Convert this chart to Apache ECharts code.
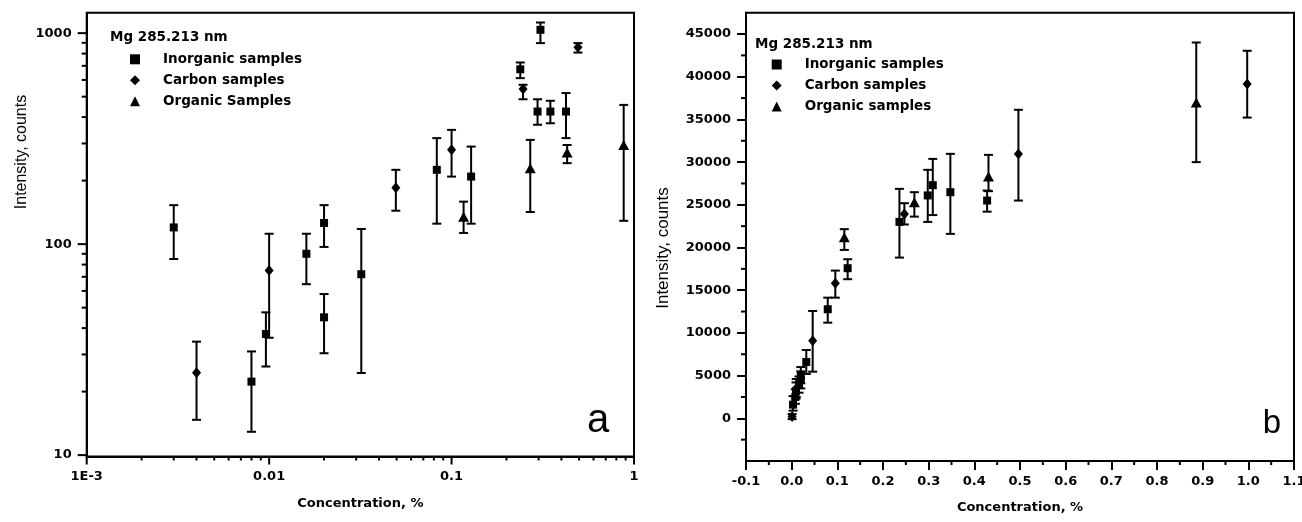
<!DOCTYPE html>
<html>
<head>
<meta charset="utf-8">
<script src="https://cdn.jsdelivr.net/npm/echarts@6/dist/echarts.min.js"></script>
<style>
html,body{margin:0;padding:0;background:#fff;}
#chart{width:1302px;height:522px;}
</style>
</head>
<body>
<div id="chart"></div>
<script>
// ---------- DATA (concentration %, intensity, upper error, lower error) ----------
// Panel a (log-log)
const aInorganic = [
  [0.003, 120, 153, 85],
  [0.008, 22.3, 31, 12.9],
  [0.0096, 37.5, 47.5, 26.3],
  [0.016, 90, 112, 64.6],
  [0.02, 126, 153, 97],
  [0.02, 45, 58, 30.4],
  [0.032, 72, 118, 24.5],
  [0.083, 225, 318, 125],
  [0.128, 209, 290, 125],
  [0.238, 674, 726, 612],
  [0.307, 1037, 1123, 897],
  [0.296, 425, 486, 368],
  [0.348, 425, 478, 374],
  [0.424, 425, 520, 318]
];
const aCarbon = [
  [0.004, 24.6, 34.5, 14.7],
  [0.01, 75, 112, 36],
  [0.0495, 185, 225, 144],
  [0.1, 280, 348, 209],
  [0.2465, 543, 569, 486],
  [0.493, 858, 897, 809]
];
const aOrganic = [
  [0.1164, 135, 159, 113],
  [0.27, 229, 312, 142],
  [0.43, 272, 295, 242],
  [0.878, 295, 457, 129]
];
// Panel b (linear)
const bInorganic = [
  [0.003, 1600, 2600, 900],
  [0.008, 2500, 3400, 1700],
  [0.0095, 3200, 4200, 2300],
  [0.016, 3900, 4900, 3000],
  [0.02, 4500, 5500, 3500],
  [0.02, 5000, 6000, 4100],
  [0.032, 6600, 8000, 5200],
  [0.079, 12770, 14130, 11200],
  [0.1226, 17580, 18630, 16290],
  [0.236, 23000, 26870, 18820],
  [0.298, 26100, 29100, 23000],
  [0.309, 27300, 30380, 23800],
  [0.3475, 26480, 30970, 21600],
  [0.428, 25500, 26670, 24200]
];
const bCarbon = [
  [0.001, 200, 500, -100],
  [0.01, 3500, 4600, 2500],
  [0.046, 9090, 12570, 5460],
  [0.0956, 15820, 17300, 14130],
  [0.2468, 23940, 25190, 22700],
  [0.4965, 30940, 36130, 25500],
  [0.9975, 39140, 43040, 35220]
];
const bOrganic = [
  [0.1153, 21210, 22150, 19720],
  [0.2687, 25310, 26480, 23620],
  [0.431, 28310, 30850, 26600],
  [0.886, 36980, 44010, 30000]
];

// ---------- TICKS ----------
const aXTickValues = [0.001, 0.01, 0.1, 1];
const aXTickLabels = ['1E-3', '0.01', '0.1', '1'];
const aXMinorTicks = [0.002,0.003,0.004,0.005,0.006,0.007,0.008,0.009,
                      0.02,0.03,0.04,0.05,0.06,0.07,0.08,0.09,
                      0.2,0.3,0.4,0.5,0.6,0.7,0.8,0.9];
const aYTickValues = [10, 100, 1000];
const aYTickLabels = ['10', '100', '1000'];
const aYMinorTicks = [20,30,40,50,60,70,80,90,200,300,400,500,600,700,800,900];
const bYMajorTicks = [-5000,0,5000,10000,15000,20000,25000,30000,35000,40000,45000];
const bYMinorTicks = [-2500,2500,7500,12500,17500,22500,27500,32500,37500,42500];
const bXMinorTicks = [-0.05,0.05,0.15,0.25,0.35,0.45,0.55,0.65,0.75,0.85,0.95,1.05];

const seriesNames = ['Inorganic samples', 'Carbon samples'];
const aOrganicName = 'Organic Samples';
const bOrganicName = 'Organic samples';
const headerText = 'Mg 285.213 nm';

// ---------- STYLE ----------
const tickFont = {fontFamily: 'DejaVu Sans', fontSize: 13, fontWeight: 'bold', color: '#000'};
const BLACK = '#000';

function matchLabel(v, values, labels) {
  for (let i = 0; i < values.length; i++) {
    if (Math.abs(Math.log10(v / values[i])) < 1e-6) return labels[i];
  }
  return '';
}

function tickSeries(xi, yi, dir, values, other, len) {
  return {
    type: 'custom', xAxisIndex: xi, yAxisIndex: yi, silent: true, clip: false, z: 5,
    data: values.map(v => [v]),
    renderItem: function (params, api) {
      const v = api.value(0);
      let p, shape;
      if (dir === 'x') {
        p = api.coord([v, other]);
        shape = {x1: p[0], y1: p[1], x2: p[0], y2: p[1] + len};
      } else {
        p = api.coord([other, v]);
        shape = {x1: p[0], y1: p[1], x2: p[0] - len, y2: p[1]};
      }
      return {type: 'line', shape: shape, style: {stroke: BLACK, lineWidth: 2}};
    }
  };
}

function errorSeries(data, xi, yi) {
  return {
    type: 'custom', xAxisIndex: xi, yAxisIndex: yi, silent: true, clip: false, z: 2,
    data: data.map(d => [d[0], d[2], d[3]]),
    renderItem: function (params, api) {
      const x = api.value(0);
      const hi = api.coord([x, api.value(1)]);
      const lo = api.coord([x, api.value(2)]);
      const w = 4.5;
      const st = {stroke: BLACK, lineWidth: 2};
      return {type: 'group', children: [
        {type: 'line', shape: {x1: hi[0], y1: hi[1], x2: lo[0], y2: lo[1]}, style: st},
        {type: 'line', shape: {x1: hi[0] - w, y1: hi[1], x2: hi[0] + w, y2: hi[1]}, style: st},
        {type: 'line', shape: {x1: lo[0] - w, y1: lo[1], x2: lo[0] + w, y2: lo[1]}, style: st}
      ]};
    }
  };
}

function scatter(name, data, xi, yi, symbol, size) {
  return {
    type: 'scatter', name: name, xAxisIndex: xi, yAxisIndex: yi, z: 4,
    symbol: symbol, symbolSize: size,
    itemStyle: {color: BLACK, opacity: 1},
    emphasis: {disabled: true},
    data: data.map(d => [d[0], d[1]])
  };
}

const A_YMIN = 9.85, A_YMAX = 1250;
const B_XMIN = -0.1, B_XMAX = 1.1, B_YMIN = -5000, B_YMAX = 47500;

const legendCommon = {
  orient: 'vertical', padding: 0, itemWidth: 10, itemHeight: 10, itemGap: 7,
  selectedMode: false,
  textStyle: {fontFamily: 'DejaVu Sans', fontSize: 13.5, fontWeight: 'bold', color: BLACK, padding: [0, 0, 0, 18]}
};

const option = {
  animation: false,
  backgroundColor: '#fff',
  grid: [
    {left: 86.7, top: 12.7, width: 547.3, height: 443.8, show: true, borderColor: BLACK, borderWidth: 2,
     backgroundColor: 'transparent', containLabel: false, outerBoundsMode: 'none'},
    {left: 746, top: 12.7, width: 548, height: 448.3, show: true, borderColor: BLACK, borderWidth: 2,
     backgroundColor: 'transparent', containLabel: false, outerBoundsMode: 'none'}
  ],
  xAxis: [
    {gridIndex: 0, type: 'log', logBase: 10, min: 0.001, max: 1,
     axisLine: {show: true, onZero: false, lineStyle: {color: BLACK, width: 2}},
     axisTick: {show: false}, splitLine: {show: false}, minorTick: {show: false},
     axisLabel: Object.assign({margin: 14, showMinLabel: true, showMaxLabel: true,
       formatter: v => matchLabel(v, aXTickValues, aXTickLabels)}, tickFont),
     name: 'Concentration, %', nameLocation: 'middle', nameGap: 41,
     nameTextStyle: {fontFamily: 'DejaVu Sans', fontSize: 13, fontWeight: 'bold', color: BLACK}},
    {gridIndex: 1, type: 'value', min: B_XMIN, max: B_XMAX, interval: 0.1,
     axisLine: {show: true, onZero: false, lineStyle: {color: BLACK, width: 2}},
     axisTick: {show: true, length: 9, lineStyle: {color: BLACK, width: 2}},
     splitLine: {show: false},
     axisLabel: Object.assign({margin: 14, showMinLabel: true, showMaxLabel: true,
       formatter: v => (Math.abs(v) < 1e-9 ? 0 : v).toFixed(1)}, tickFont),
     name: 'Concentration, %', nameLocation: 'middle', nameGap: 40,
     nameTextStyle: {fontFamily: 'DejaVu Sans', fontSize: 13, fontWeight: 'bold', color: BLACK}}
  ],
  yAxis: [
    {gridIndex: 0, type: 'log', logBase: 10, min: A_YMIN, max: A_YMAX,
     axisLine: {show: true, onZero: false, lineStyle: {color: BLACK, width: 2}},
     axisTick: {show: false}, splitLine: {show: false}, minorTick: {show: false},
     axisLabel: Object.assign({margin: 15, showMinLabel: false, showMaxLabel: false,
       formatter: v => matchLabel(v, aYTickValues, aYTickLabels)}, tickFont)},
    {gridIndex: 1, type: 'value', min: B_YMIN, max: B_YMAX, interval: 5000,
     axisLine: {show: true, onZero: false, lineStyle: {color: BLACK, width: 2}},
     axisTick: {show: true, length: 9, customValues: bYMajorTicks, lineStyle: {color: BLACK, width: 2}},
     splitLine: {show: false},
     axisLabel: Object.assign({margin: 15, showMinLabel: false, showMaxLabel: false,
       formatter: v => (v < 0 || v > 45000) ? '' : String(Math.round(v))}, tickFont)}
  ],
  legend: [
    Object.assign({left: 130, top: 52.3, data: [seriesNames[0], seriesNames[1], aOrganicName]}, legendCommon),
    Object.assign({left: 771.7, top: 57.5, data: [seriesNames[0], seriesNames[1], bOrganicName]}, legendCommon)
  ],
  graphic: [
    {type: 'text', x: 110, y: 37, silent: true,
     style: {text: headerText, fontFamily: 'DejaVu Sans', fontSize: 13.5, fontWeight: 'bold', fill: BLACK, verticalAlign: 'middle'}},
    {type: 'text', x: 755, y: 44, silent: true,
     style: {text: headerText, fontFamily: 'DejaVu Sans', fontSize: 13.5, fontWeight: 'bold', fill: BLACK, verticalAlign: 'middle'}},
    {type: 'text', x: 22, y: 152, rotation: Math.PI / 2, silent: true,
     style: {text: 'Intensity, counts', fontFamily: 'Liberation Sans', fontSize: 16, fill: BLACK, align: 'center', verticalAlign: 'middle'}},
    {type: 'text', x: 663, y: 248, rotation: Math.PI / 2, silent: true,
     style: {text: 'Intensity, counts', fontFamily: 'Liberation Sans', fontSize: 17, fill: BLACK, align: 'center', verticalAlign: 'middle'}},
    {type: 'text', x: 598, y: 421, silent: true,
     style: {text: 'a', fontFamily: 'Liberation Sans', fontSize: 40, fill: BLACK, align: 'center', verticalAlign: 'middle'}},
    {type: 'text', x: 1272, y: 424, silent: true,
     style: {text: 'b', fontFamily: 'Liberation Sans', fontSize: 33, fill: BLACK, align: 'center', verticalAlign: 'middle'}}
  ],
  series: [
    // panel a ticks
    tickSeries(0, 0, 'x', aXTickValues, A_YMIN, 8),
    tickSeries(0, 0, 'x', aXMinorTicks, A_YMIN, 4),
    tickSeries(0, 0, 'y', aYTickValues, 0.001, 9),
    tickSeries(0, 0, 'y', aYMinorTicks, 0.001, 5),
    // panel b minor ticks
    tickSeries(1, 1, 'x', bXMinorTicks, B_YMIN, 4),
    tickSeries(1, 1, 'y', bYMinorTicks, B_XMIN, 5),
    // error bars
    errorSeries(aInorganic, 0, 0), errorSeries(aCarbon, 0, 0), errorSeries(aOrganic, 0, 0),
    errorSeries(bInorganic, 1, 1), errorSeries(bCarbon, 1, 1), errorSeries(bOrganic, 1, 1),
    // points
    scatter(seriesNames[0], aInorganic, 0, 0, 'rect', 8),
    scatter(seriesNames[1], aCarbon, 0, 0, 'diamond', [9, 11]),
    scatter(aOrganicName, aOrganic, 0, 0, 'triangle', [11, 10]),
    scatter(seriesNames[0], bInorganic, 1, 1, 'rect', 8),
    scatter(seriesNames[1], bCarbon, 1, 1, 'diamond', [9, 11]),
    scatter(bOrganicName, bOrganic, 1, 1, 'triangle', [11, 10])
  ]
};

const chart = echarts.init(document.getElementById('chart'), null, {renderer: 'canvas'});
chart.setOption(option);
</script>
</body>
</html>
